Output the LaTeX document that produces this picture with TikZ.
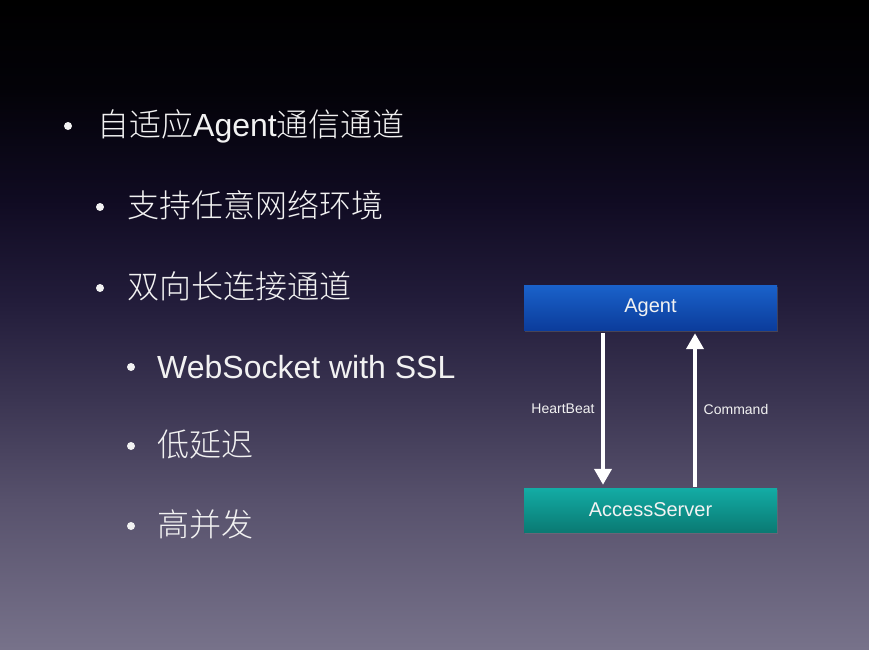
\documentclass[tikz,border=0pt]{standalone}
\usepackage{fontspec}
\setmainfont{Noto Sans CJK SC}[UprightFont=* Light]
\newfontfamily\lat{Liberation Sans}
\usetikzlibrary{arrows.meta,shadows,calc}
\definecolor{bgA}{HTML}{000000}
\definecolor{bgB}{HTML}{030208}
\definecolor{bgC}{HTML}{100B22}
\definecolor{bgD}{HTML}{221C3A}
\definecolor{bgE}{HTML}{3B3552}
\definecolor{bgF}{HTML}{57516C}
\definecolor{bgG}{HTML}{77728A}
\definecolor{agTop}{HTML}{1A62CA}
\definecolor{agBot}{HTML}{0B3C9C}
\definecolor{asTop}{HTML}{13ACA5}
\definecolor{asBot}{HTML}{0A7A73}
\definecolor{txt}{HTML}{F2F2F2}
\tikzset{
  bgband/.style={draw=none},
  bul/.style={circle,fill=txt,inner sep=0pt,minimum size=8pt},
  itemtext/.style={anchor=base west,inner sep=0pt,text=txt,font=\fontsize{32}{36}\selectfont},
  box/.style={draw=none,minimum width=253pt,inner sep=0pt,text=txt,
    font=\fontsize{20}{24}\selectfont,
    drop shadow={opacity=0.35,shadow xshift=1pt,shadow yshift=-2pt}},
  lbl/.style={text=txt,inner sep=0pt,font=\fontsize{14}{16}\selectfont},
  arr/.style={draw=white,line width=4pt,-{Triangle[width=17pt,length=16pt]}},
}
\begin{document}
\begin{tikzpicture}[x=1pt,y=-1pt]
\useasboundingbox (0,0) rectangle (869,649);
% background
\shade[bgband,top color=bgA,bottom color=bgB] (0,0) rectangle (869,90.5);
\shade[bgband,top color=bgB,bottom color=bgC] (0,90) rectangle (869,200.5);
\shade[bgband,top color=bgC,bottom color=bgD] (0,200) rectangle (869,300.5);
\shade[bgband,top color=bgD,bottom color=bgE] (0,300) rectangle (869,400.5);
\shade[bgband,top color=bgE,bottom color=bgF] (0,400) rectangle (869,500.5);
\shade[bgband,top color=bgF,bottom color=bgG] (0,500) rectangle (869,649);
% bullets
\node[bul] (b1) at (68,126) {};
\node[itemtext] (t1) at (97,136) {自适应{\lat Agent}通信通道};
\node[bul] (b2) at (100,207) {};
\node[itemtext] (t2) at (127,217) {支持任意网络环境};
\node[bul] (b3) at (100,288) {};
\node[itemtext] (t3) at (127,298) {双向长连接通道};
\node[bul] (b4) at (131,367) {};
\node[itemtext] (t4) at (157,378) {\lat WebSocket with SSL};
\node[bul] (b5) at (131,446) {};
\node[itemtext] (t5) at (157,456) {低延迟};
\node[bul] (b6) at (131,526) {};
\node[itemtext] (t6) at (157,536) {高并发};
% diagram
\node[box,minimum height=45pt,top color=agTop,bottom color=agBot] (agent) at (650.5,307.5) {\raisebox{-2pt}{\lat Agent}};
\node[box,minimum height=44pt,top color=asTop,bottom color=asBot] (server) at (650.5,510) {\raisebox{-1pt}{\lat AccessServer}};
\draw[arr] ($(agent.south)+(-47.5,3)$) -- ($(server.north)+(-47.5,-3)$);
\draw[arr] ($(server.north)+(44.5,-1)$) -- ($(agent.south)+(44.5,3)$);
\node[lbl] (hb) at (563,409) {\lat HeartBeat};
\node[lbl] (cmd) at (736,409) {\lat Command};
\end{tikzpicture}
\end{document}
